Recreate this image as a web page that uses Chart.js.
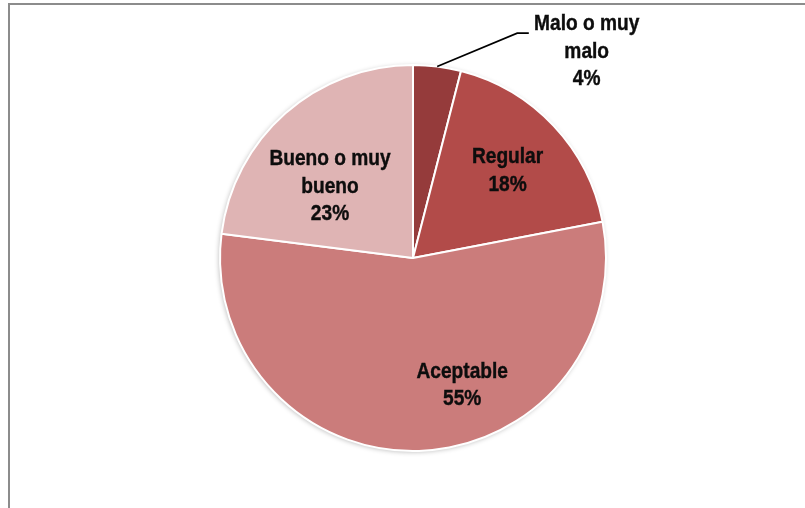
<!DOCTYPE html>
<html>
<head>
<meta charset="utf-8">
<script src="https://cdn.jsdelivr.net/npm/chart.js@4/dist/chart.umd.min.js"></script>
<style>
    html, body { margin: 0; padding: 0; background: #fff; }
    #wrap { position: relative; width: 805px; height: 508px; overflow: hidden; }
    #frame {
        position: absolute; left: 8px; top: 3px; width: 900px; height: 600px;
        border-left: 2px solid #8c8c8c; border-top: 2px solid #8c8c8c;
    }
    #chart { position: absolute; left: 0; top: 0; }
</style>
</head>
<body>
<div id="wrap">
    <div id="frame"></div>
    <canvas id="chart" width="805" height="508"></canvas>
</div>
<script>
// data, clockwise from 12 o'clock
const categories = [["Malo o muy", "malo"], ["Regular"], ["Aceptable"], ["Bueno o muy", "bueno"]];
const shares = [4, 18, 55, 23];
const sliceColors = ["#953b3b", "#b24b49", "#cb7c7b", "#dfb4b4"];

// label anchors as fractions of the radius from the pie centre (Excel placed them by hand)
const labelAnchors = [[0.90, -1.08], [0.49, -0.46], [0.255, 0.65], [-0.43, -0.38]];
// elbow and end of the leader line, same units
const leaderPath = [[0.54, -1.165], [0.60, -1.165]];

function pct(v) {
    const total = shares.reduce((a, b) => a + b, 0);
    return Math.round(v / total * 100) + "%";
}

const pieShadow = {
    id: "pieShadow",
    beforeDatasetsDraw(chart) {
        const arc = chart.getDatasetMeta(0).data[0];
        if (!arc) return;
        const ctx = chart.ctx;
        ctx.save();
        ctx.shadowColor = "rgba(0,0,0,0.28)";
        ctx.shadowBlur = 5;
        ctx.shadowOffsetX = -1;
        ctx.shadowOffsetY = 1;
        ctx.fillStyle = "#fff";
        ctx.beginPath();
        ctx.arc(arc.x, arc.y, arc.outerRadius, 0, Math.PI * 2);
        ctx.fill();
        ctx.restore();
    }
};

const sliceLabels = {
    id: "sliceLabels",
    afterDatasetsDraw(chart, args, opts) {
        const ctx = chart.ctx;
        const meta = chart.getDatasetMeta(0);
        const lineH = 27.5;
        meta.data.forEach((arc, i) => {
            const r = arc.outerRadius;
            const [fx, fy] = opts.anchors[i];
            const cx = arc.x + fx * r;
            const cy = arc.y + fy * r;
            const lines = [].concat(chart.data.labels[i], pct(shares[i]));

            // leader line for the small outside label
            if (i === opts.leaderIndex) {
                const mid = (arc.startAngle + arc.endAngle) / 2;
                ctx.save();
                ctx.strokeStyle = "#000";
                ctx.lineWidth = 1.6;
                ctx.beginPath();
                ctx.moveTo(arc.x + Math.cos(mid) * r, arc.y + Math.sin(mid) * r);
                opts.leader.forEach(([px, py]) => ctx.lineTo(arc.x + px * r, arc.y + py * r));
                ctx.stroke();
                ctx.restore();
            }

            ctx.save();
            ctx.fillStyle = "#0d0d0d";
            ctx.strokeStyle = "#0d0d0d";
            ctx.lineWidth = 0.4;
            ctx.font = "bold 22px 'Liberation Sans', Arial, sans-serif";
            ctx.textAlign = "center";
            ctx.textBaseline = "alphabetic";
            const top = cy - (lines.length - 1) * lineH / 2 + 8;
            lines.forEach((t, k) => {
                ctx.save();
                ctx.translate(cx, top + k * lineH);
                ctx.scale(0.87, 1);
                ctx.fillText(t, 0, 0);
                ctx.strokeText(t, 0, 0);
                ctx.restore();
            });
            ctx.restore();
        });
    }
};

new Chart(document.getElementById("chart"), {
    type: "pie",
    data: {
        labels: categories,
        datasets: [{
            data: shares,
            backgroundColor: sliceColors,
            borderColor: "#ffffff",
            borderWidth: 2,
            hoverOffset: 0
        }]
    },
    options: {
        responsive: false,
        animation: false,
        layout: { padding: { top: 64, bottom: 56, left: 21, right: 0 } },
        plugins: {
            legend: { display: false },
            tooltip: { enabled: false },
            sliceLabels: { anchors: labelAnchors, leaderIndex: 0, leader: leaderPath }
        }
    },
    plugins: [pieShadow, sliceLabels]
});
</script>
</body>
</html>
